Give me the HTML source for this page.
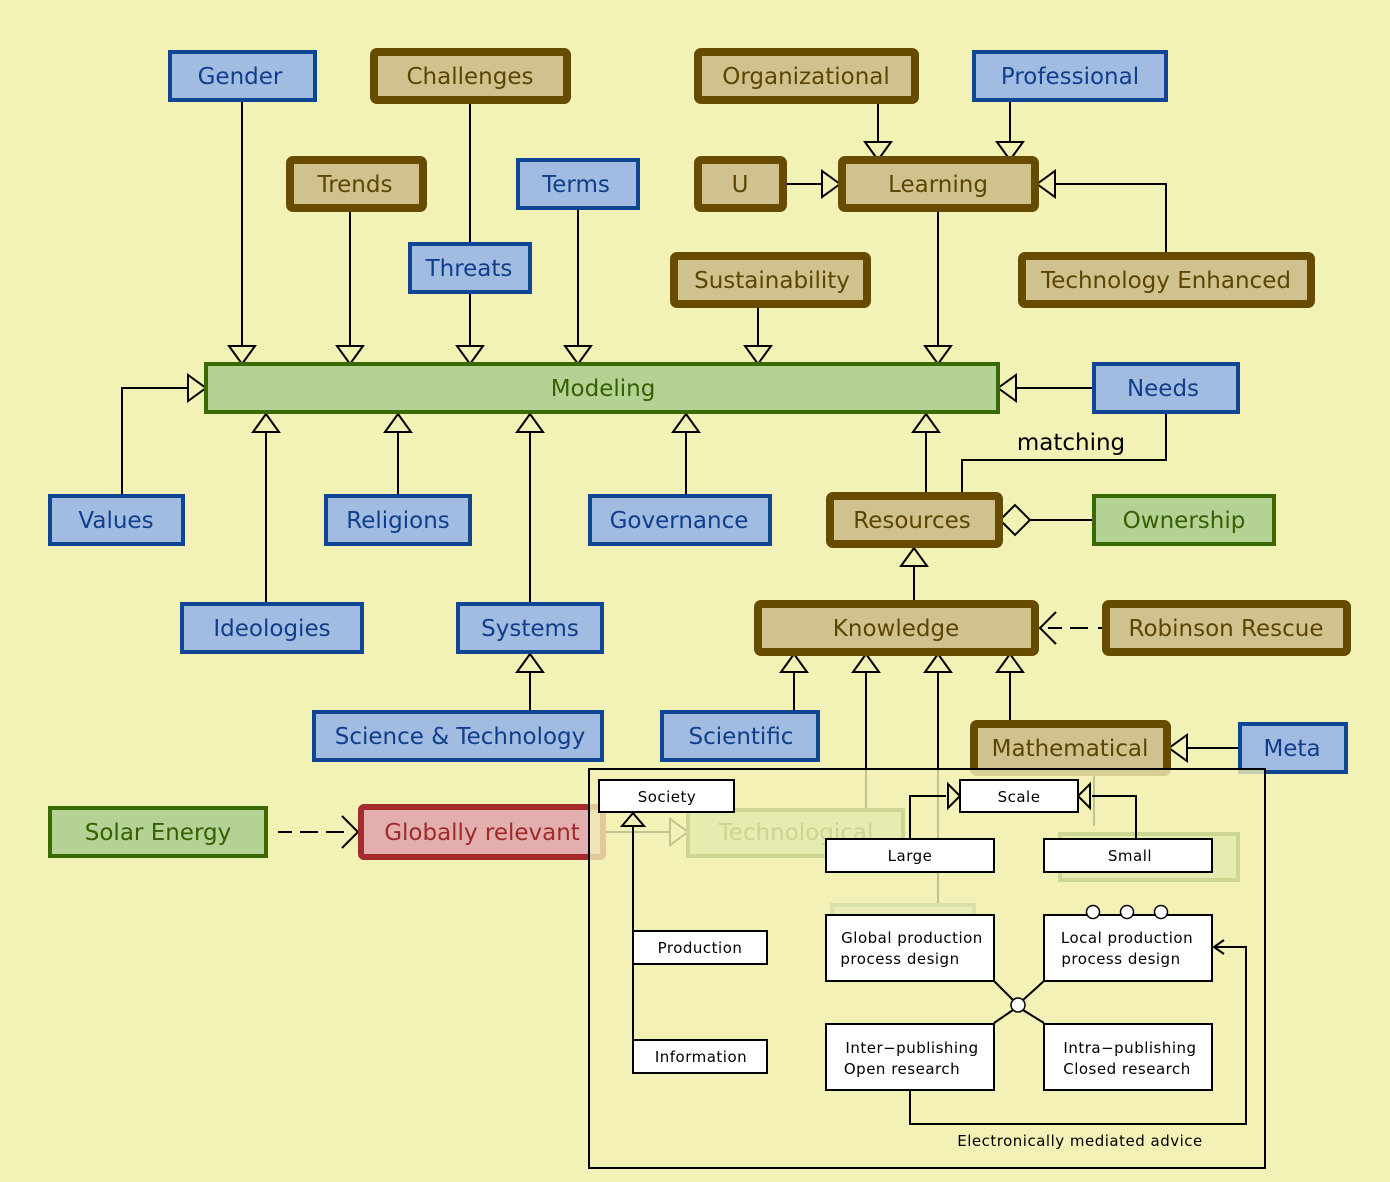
<!DOCTYPE html>
<html><head><meta charset="utf-8"><style>
html,body{margin:0;padding:0;background:#f2f1b6;}
svg{display:block;}
text{font-family:"DejaVu Sans","Liberation Sans",sans-serif;}
.b rect{fill:#a2bbe0;stroke:#0f4592;stroke-width:4;}
.b text{fill:#0f3f8c;font-size:23px;text-anchor:middle;}
.w rect{fill:#d0c28e;stroke:#674c00;stroke-width:8;}
.w text{fill:#5c4500;font-size:23px;text-anchor:middle;}
.g rect{fill:#b3d294;stroke:#386a00;stroke-width:4;}
.g text{fill:#386000;font-size:23px;text-anchor:middle;}
.l{stroke:#000;stroke-width:2;fill:none;}
.t{fill:#f2f1b6;stroke:#000;stroke-width:2;}
.s rect{fill:#fff;stroke:#000;stroke-width:2;}
.s text{fill:#000;font-size:15px;text-anchor:middle;letter-spacing:0.5px;}
</style></head><body>
<svg width="1390" height="1182" viewBox="0 0 1390 1182" xmlns="http://www.w3.org/2000/svg">
<rect width="1390" height="1182" fill="#f2f1b6"/>

<g class="l">
<path d="M242 102V346M350 212V346M470 104V242M470 294V346M578 210V346M758 308V346M938 212V346"/>
<path d="M878 104V142M1010 102V142M787 184H822M1055 184H1166V252"/>
<path d="M122 494V388H188M1016 388H1092"/>
<path d="M266 432V602M398 432V494M530 432V602M686 432V494M926 432V492"/>
<path d="M1166 414V460H962V494M1030 520H1092"/>
<path d="M914 566V600M530 672V710M794 672V710M866 672V808M938 672V905M1010 672V720M1187 748H1238"/>
<path d="M1048 628H1062M1070 628H1088M1098 628H1104" />
<path d="M278 832H292M300 832H318M326 832H344"/>
</g>
<g class="t">
<path d="M229 346h26l-13 18z"/><path d="M337 346h26l-13 18z"/><path d="M457 346h26l-13 18z"/><path d="M565 346h26l-13 18z"/><path d="M745 346h26l-13 18z"/><path d="M925 346h26l-13 18z"/>
<path d="M865 142h26l-13 18z"/><path d="M997 142h26l-13 18z"/>
<path d="M822 171v26l18-13z"/><path d="M1055 171v26l-18-13z"/>
<path d="M188 375v26l18-13z"/><path d="M1016 375v26l-18-13z"/>
<path d="M253 432h26l-13-18z"/><path d="M385 432h26l-13-18z"/><path d="M517 432h26l-13-18z"/><path d="M673 432h26l-13-18z"/><path d="M913 432h26l-13-18z"/>
<path d="M901 566h26l-13-18z"/><path d="M517 672h26l-13-18z"/>
<path d="M781 672h26l-13-18z"/><path d="M853 672h26l-13-18z"/><path d="M925 672h26l-13-18z"/><path d="M997 672h26l-13-18z"/>
<path d="M1187 735v26l-18-13z"/>
<path d="M1000 520l15-15 15 15-15 15z"/>
</g>
<path class="l" d="M1056 612l-16 16 16 16M342 816l16 16-16 16"/>
<text x="1071" y="450" font-size="23" fill="#000" text-anchor="middle">matching</text>

<g class="b"><rect x="170" y="52" width="145" height="48"/><text x="240" y="84">Gender</text></g>
<g class="w"><rect x="374" y="52" width="193" height="48" rx="3"/><text x="470" y="84">Challenges</text></g>
<g class="w"><rect x="698" y="52" width="217" height="48" rx="3"/><text x="806" y="84">Organizational</text></g>
<g class="b"><rect x="974" y="52" width="192" height="48"/><text x="1070" y="84">Professional</text></g>
<g class="w"><rect x="290" y="160" width="133" height="48" rx="3"/><text x="355" y="192">Trends</text></g>
<g class="b"><rect x="518" y="160" width="120" height="48"/><text x="576" y="192">Terms</text></g>
<g class="w"><rect x="698" y="160" width="85" height="48" rx="3"/><text x="740" y="192">U</text></g>
<g class="w"><rect x="842" y="160" width="193" height="48" rx="3"/><text x="938" y="192">Learning</text></g>
<g class="b"><rect x="410" y="244" width="120" height="48"/><text x="469" y="276">Threats</text></g>
<g class="w"><rect x="674" y="256" width="193" height="48" rx="3"/><text x="772" y="288">Sustainability</text></g>
<g class="w"><rect x="1022" y="256" width="289" height="48" rx="3"/><text x="1166" y="288">Technology Enhanced</text></g>
<g class="g"><rect x="206" y="364" width="792" height="48"/><text x="603" y="396">Modeling</text></g>
<g class="b"><rect x="1094" y="364" width="144" height="48"/><text x="1163" y="396">Needs</text></g>
<g class="b"><rect x="50" y="496" width="133" height="48"/><text x="116" y="528">Values</text></g>
<g class="b"><rect x="326" y="496" width="144" height="48"/><text x="398" y="528">Religions</text></g>
<g class="b"><rect x="590" y="496" width="180" height="48"/><text x="679" y="528">Governance</text></g>
<g class="w"><rect x="830" y="496" width="169" height="48" rx="3"/><text x="912" y="528">Resources</text></g>
<g class="g"><rect x="1094" y="496" width="180" height="48"/><text x="1184" y="528">Ownership</text></g>
<g class="b"><rect x="182" y="604" width="180" height="48"/><text x="272" y="636">Ideologies</text></g>
<g class="b"><rect x="458" y="604" width="144" height="48"/><text x="530" y="636">Systems</text></g>
<g class="w"><rect x="758" y="604" width="277" height="48" rx="3"/><text x="896" y="636">Knowledge</text></g>
<g class="w"><rect x="1106" y="604" width="241" height="48" rx="3"/><text x="1226" y="636">Robinson Rescue</text></g>
<g class="b"><rect x="314" y="712" width="288" height="48"/><text x="460" y="744">Science &amp; Technology</text></g>
<g class="b"><rect x="662" y="712" width="156" height="48"/><text x="741" y="744">Scientific</text></g>
<g class="w"><rect x="974" y="724" width="193" height="48" rx="3"/><text x="1070" y="756">Mathematical</text></g>
<g class="b"><rect x="1240" y="724" width="106" height="48"/><text x="1292" y="756">Meta</text></g>
<g class="g"><rect x="50" y="808" width="216" height="48"/><text x="158" y="840">Solar Energy</text></g>
<g><rect x="361" y="807" width="242" height="50" rx="3" fill="#e2aeae" stroke="#a6292c" stroke-width="6"/><text x="482" y="840" font-size="23" fill="#a02a2a" text-anchor="middle">Globally relevant</text></g>
<path class="l" d="M606 832H670M1094 776V826"/>
<path class="t" d="M670 819v26l18-13z"/>
<g class="g"><rect x="688" y="810" width="215" height="46"/><text x="796" y="840">Technological</text></g>
<g class="g"><rect x="1060" y="834" width="178" height="46"/></g>
<rect x="832" y="905" width="142" height="30" fill="#c8ccb0" stroke="#7a9a7a" stroke-width="4"/>

<rect x="589" y="769" width="676" height="399" fill="#f2f1b6" fill-opacity="0.8" stroke="#000" stroke-width="2"/>
<g class="l" stroke-width="1.5">
<path d="M633 826V1056M910 838V796H946M1136 838V796H1092"/>
<path d="M994 981L1013 1000M1044 981L1023 1000M994 1023L1013 1010M1044 1023L1023 1010"/>
<path d="M910 1090V1124H1246V947H1214M1224 940l-10 7 10 7"/>
</g>
<g class="t" stroke-width="1.5" fill="#fff">
<path d="M622 826h22l-11-13z"/>
<path d="M948 784v24l12-12z"/><path d="M1090 784v24l-12-12z"/>
</g>
<g class="s">
<rect x="599" y="780" width="135" height="32"/><text x="667" y="802">Society</text>
<rect x="960" y="780" width="118" height="32"/><text x="1019" y="802">Scale</text>
<rect x="826" y="839" width="168" height="33"/><text x="910" y="861">Large</text>
<rect x="1044" y="839" width="168" height="33"/><text x="1130" y="861">Small</text>
<rect x="633" y="931" width="134" height="33"/><text x="700" y="953">Production</text>
<rect x="633" y="1040" width="134" height="33"/><text x="701" y="1062">Information</text>
<rect x="826" y="915" width="168" height="66"/><text x="912" y="943">Global production</text><text x="900" y="964">process design</text>
<rect x="1044" y="915" width="168" height="66"/><text x="1127" y="943">Local production</text><text x="1121" y="964">process design</text>
<rect x="826" y="1024" width="168" height="66"/><text x="912" y="1053">Inter−publishing</text><text x="902" y="1074">Open research</text>
<rect x="1044" y="1024" width="168" height="66"/><text x="1130" y="1053">Intra−publishing</text><text x="1127" y="1074">Closed research</text>
</g>
<g fill="#fff" stroke="#000" stroke-width="1.5">
<circle cx="1093" cy="912" r="6.5"/><circle cx="1127" cy="912" r="6.5"/><circle cx="1161" cy="912" r="6.5"/>
<circle cx="1018" cy="1005" r="7"/>
</g>
<text x="1080" y="1146" font-size="15" fill="#000" text-anchor="middle" letter-spacing="0.5">Electronically mediated advice</text>
</svg>
</body></html>
